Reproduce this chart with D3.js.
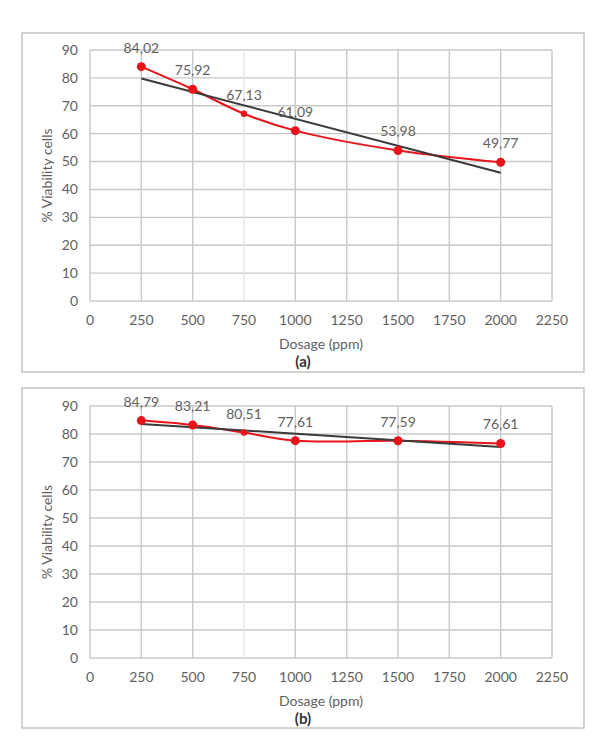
<!DOCTYPE html>
<html>
<head>
<meta charset="utf-8">
<script src="https://cdn.jsdelivr.net/npm/d3@7"></script>
<style>
  body { margin: 0; background: #fff; }
  svg { display: block; font-family: Lato, "Open Sans", sans-serif; }
</style>
</head>
<body>
<div id="chart"></div>
<script>
// dosage levels (ppm)
const dosage = [250, 500, 750, 1000, 1500, 2000];
// % viability, panel (a) and (b)
const viabilityA = [84.02, 75.92, 67.13, 61.09, 53.98, 49.77];
const viabilityB = [84.79, 83.21, 80.51, 77.61, 77.59, 76.61];
// linear trend line end points
const trendX = [250, 2000];
const trendA = [79.8, 46.0];
const trendB = [83.6, 75.4];
// axis ticks
const xTicks = [0, 250, 500, 750, 1000, 1250, 1500, 1750, 2000, 2250];
const yTicks = [0, 10, 20, 30, 40, 50, 60, 70, 80, 90];

const W = 605, H = 745;
const svg = d3.select("#chart").append("svg")
  .attr("width", W)
  .attr("height", H);

const fmt = v => d3.format(".2f")(v).replace(".", ",");
const textColor = "#5f5f5f";

function drawPanel({ box, plot, values, trend, tag }) {
  // outer frame
  svg.append("rect")
    .attr("x", box.x).attr("y", box.y)
    .attr("width", box.w).attr("height", box.h)
    .attr("fill", "#fff")
    .attr("stroke", "#c4c4c4")
    .attr("stroke-width", 1.5);

  const x = d3.scaleLinear().domain([0, 2250]).range([plot.x0, plot.x1]);
  const y = d3.scaleLinear().domain([0, 90]).range([plot.y0, plot.y1]);

  const g = svg.append("g");

  // grid
  g.selectAll(".hgrid")
    .data(yTicks)
    .join("line")
    .attr("x1", plot.x0).attr("x2", plot.x1)
    .attr("y1", d => y(d)).attr("y2", d => y(d))
    .attr("stroke", "#c8c8c8")
    .attr("stroke-width", 1.4);

  g.selectAll(".vgrid")
    .data(xTicks)
    .join("line")
    .attr("x1", d => x(d)).attr("x2", d => x(d))
    .attr("y1", plot.y0).attr("y2", plot.y1)
    .attr("stroke", d => d === 750 ? "#e6e6e6" : "#c8c8c8")
    .attr("stroke-width", 1.4);

  // tick labels
  g.selectAll(".ylab")
    .data(yTicks)
    .join("text")
    .attr("x", plot.x0 - 12)
    .attr("y", d => y(d))
    .attr("dy", "0.35em")
    .attr("text-anchor", "end")
    .attr("font-size", 14)
    .attr("fill", textColor)
    .text(d => d);

  g.selectAll(".xlab")
    .data(xTicks)
    .join("text")
    .attr("x", d => x(d))
    .attr("y", plot.y0 + 19)
    .attr("dy", "0.35em")
    .attr("text-anchor", "middle")
    .attr("font-size", 14)
    .attr("fill", textColor)
    .text(d => d);

  // axis titles
  g.append("text")
    .attr("x", (plot.x0 + plot.x1) / 2)
    .attr("y", plot.y0 + 43)
    .attr("dy", "0.35em")
    .attr("text-anchor", "middle")
    .attr("font-size", 14)
    .attr("fill", textColor)
    .text("Dosage (ppm)");

  g.append("text")
    .attr("transform", `translate(47,${(plot.y0 + plot.y1) / 2}) rotate(-90)`)
    .attr("dy", "0.35em")
    .attr("text-anchor", "middle")
    .attr("font-size", 14)
    .attr("fill", textColor)
    .text("% Viability cells");

  g.append("text")
    .attr("x", (plot.x0 + plot.x1) / 2 - 18)
    .attr("y", plot.y0 + 61)
    .attr("dy", "0.35em")
    .attr("text-anchor", "middle")
    .attr("font-size", 15)
    .attr("font-weight", "bold")
    .attr("fill", "#333")
    .text(tag);

  const pts = dosage.map((d, i) => ({ x: d, v: values[i] }));

  // red series (smoothed)
  const line = d3.line()
    .curve(d3.curveCatmullRom.alpha(0.5))
    .x(d => x(d.x))
    .y(d => y(d.v));

  g.append("path")
    .datum(pts)
    .attr("fill", "none")
    .attr("stroke", "#e8141b")
    .attr("stroke-width", 2)
    .attr("d", line);

  // linear trend
  const tpts = trendX.map((d, i) => ({ x: d, v: trend[i] }));
  g.append("path")
    .datum(tpts)
    .attr("fill", "none")
    .attr("stroke", "#3a3a3a")
    .attr("stroke-width", 2)
    .attr("d", d3.line().x(d => x(d.x)).y(d => y(d.v)));

  g.selectAll(".dot")
    .data(pts)
    .join("circle")
    .attr("cx", d => x(d.x))
    .attr("cy", d => y(d.v))
    .attr("r", d => d.x === 750 ? 3.2 : 4.5)
    .attr("fill", "#e8141b");

  g.selectAll(".vlab")
    .data(pts)
    .join("text")
    .attr("x", d => x(d.x))
    .attr("y", d => y(d.v) - 14)
    .attr("text-anchor", "middle")
    .attr("font-size", 14)
    .attr("fill", textColor)
    .text(d => fmt(d.v));
}

drawPanel({
  box: { x: 22, y: 33, w: 562, h: 339 },
  plot: { x0: 90, x1: 552, y0: 301, y1: 50 },
  values: viabilityA,
  trend: trendA,
  tag: "(a)"
});

drawPanel({
  box: { x: 22, y: 388, w: 562, h: 340 },
  plot: { x0: 90, x1: 552, y0: 658, y1: 406 },
  values: viabilityB,
  trend: trendB,
  tag: "(b)"
});
</script>
</body>
</html>
